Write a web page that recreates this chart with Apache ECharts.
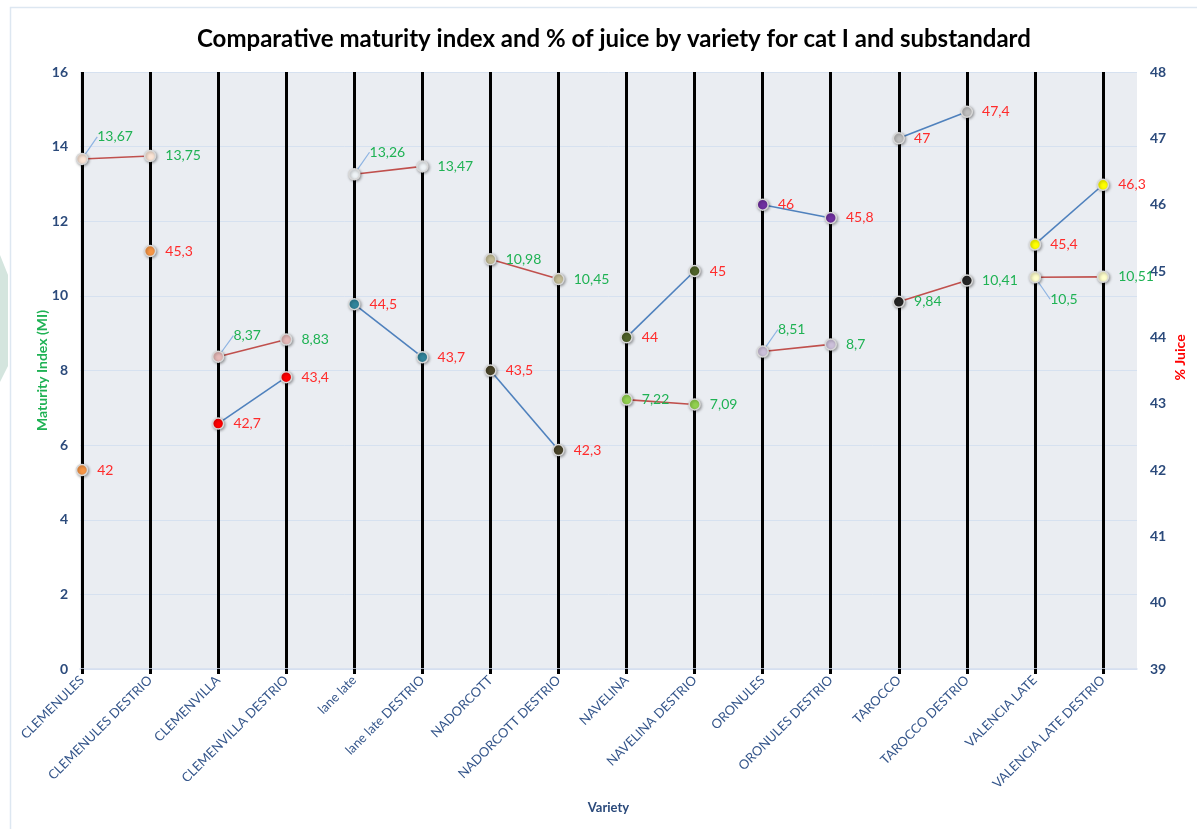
<!DOCTYPE html>
<html>
<head>
<meta charset="utf-8">
<script src="https://cdn.jsdelivr.net/npm/echarts@6/dist/echarts.min.js"></script>
<style>
html, body { margin: 0; padding: 0; background: #fff; }
#chart { width: 1197px; height: 829px; }
</style>
</head>
<body>
<div id="chart"></div>
<script>
// categories on the x axis, two per variety (cat I, then DESTRIO)
var categories = ['CLEMENULES', 'CLEMENULES DESTRIO', 'CLEMENVILLA', 'CLEMENVILLA DESTRIO',
  'lane late', 'lane late DESTRIO', 'NADORCOTT', 'NADORCOTT DESTRIO',
  'NAVELINA', 'NAVELINA DESTRIO', 'ORONULES', 'ORONULES DESTRIO',
  'TAROCCO', 'TAROCCO DESTRIO', 'VALENCIA LATE', 'VALENCIA LATE DESTRIO'];

// maturity index (left axis)
var miValues = [13.67, 13.75, 8.37, 8.83, 13.26, 13.47, 10.98, 10.45,
  7.22, 7.09, 8.51, 8.7, 9.84, 10.41, 10.5, 10.51];

// % juice (right axis)
var juiceValues = [42, 45.3, 42.7, 43.4, 44.5, 43.7, 43.5, 42.3,
  44, 45, 46, 45.8, 47, 47.4, 45.4, 46.3];

// is the juice pair joined by a line
var juiceLinked = [false, true, true, true, true, true, true, true];

var miTicks = [0, 16, 2];
var juiceTicks = [39, 48, 1];

// point colours per variety
var miColors = ['#fbe5d6', '#e6b9b8', '#eef3f6', '#c4bd97', '#92d050', '#ccc0da', '#262626', '#ffffcc'];
var juiceColors = ['#f79646', '#ff0000', '#31849b', '#494429', '#4f6228', '#7030a0', '#bfbfbf', '#ffff00'];

// labels that Excel pushed away with a leader line (px up/down)
var miLabelShift = { 0: -22, 2: -21, 4: -22, 10: -22, 14: 22 };

var FONT = 'Lato';
var AXIS_BLUE = '#2b4a7b';

function fmt(v) { return String(v).replace('.', ','); }

var series = [];
for (var i = 0; i < 8; i++) {
  var a = 2 * i, b = 2 * i + 1;
  series.push({
    name: 'MI ' + i,
    type: 'line',
    xAxisIndex: 1, yAxisIndex: 2,
    data: [a, b].map(function (k) {
      var item = { value: [categories[k], miValues[k]] };
      if (miLabelShift[k] !== undefined) item.labelLine = { show: true };
      return item;
    }),
    symbol: 'circle', symbolSize: 11,
    lineStyle: { color: '#c0504d', width: 1.6 },
    itemStyle: { color: miColors[i], borderColor: '#d8d8d8', borderWidth: 1.5,
      shadowBlur: 3, shadowOffsetX: 1, shadowOffsetY: 1, shadowColor: 'rgba(0,0,0,0.35)' },
    label: { show: true, position: 'right', distance: 9, color: '#1fb254', fontSize: 14, fontFamily: FONT,
      formatter: function (p) { return fmt(p.value[1]); } },
    labelLine: { lineStyle: { color: '#8db3e2', width: 1.2 } },
    labelLayout: (function (base) {
      return function (p) {
        var k = base + p.dataIndex;
        if (miLabelShift[k] === undefined) return {};
        return { dy: miLabelShift[k] };
      };
    })(a),
    emphasis: { disabled: true },
    z: 3
  });
  series.push({
    name: 'Juice ' + i,
    type: 'line',
    xAxisIndex: 1, yAxisIndex: 3,
    data: [[categories[a], juiceValues[a]], [categories[b], juiceValues[b]]],
    symbol: 'circle', symbolSize: 11,
    lineStyle: { color: '#4f81bd', width: 1.6, opacity: juiceLinked[i] ? 1 : 0 },
    itemStyle: { color: juiceColors[i], borderColor: '#d8d8d8', borderWidth: 1.5,
      shadowBlur: 3, shadowOffsetX: 1, shadowOffsetY: 1, shadowColor: 'rgba(0,0,0,0.35)' },
    label: { show: true, position: 'right', distance: 9, color: '#ff2b2b', fontSize: 14, fontFamily: FONT,
      formatter: function (p) { return fmt(p.value[1]); } },
    emphasis: { disabled: true },
    z: 3
  });
}

var chart = echarts.init(document.getElementById('chart'));
chart.setOption({
  animation: false,
  backgroundColor: '#fff',
  title: {
    text: 'Comparative maturity index and % of juice by variety for cat I and substandard',
    left: 192, top: 22,
    textStyle: { fontFamily: FONT, fontSize: 24, fontWeight: 'bold', color: '#000' }
  },
  // slide frame + decoration on the left edge
  graphic: [
    { type: 'rect', left: 8, top: 5, shape: { width: 1300, height: 900 }, silent: true, z: -10,
      style: { fill: 'none', stroke: '#dde7f1', lineWidth: 1.5 } },
    { type: 'polygon', silent: true, z: -10,
      shape: { points: [[0, 255], [8, 275], [8, 366], [0, 382]] },
      style: { fill: '#d4e5de' } }
  ],
  grid: [
    { left: 80, right: 60, top: 72, bottom: 160, show: true, backgroundColor: '#eaedf2', borderWidth: 0 },
    { left: 82, right: 94, top: 72, bottom: 160 }
  ],
  xAxis: [
    { gridIndex: 0, type: 'value', min: 0, max: 1,
      axisLine: { show: true, lineStyle: { color: '#d5def0', width: 1.5 } },
      axisTick: { show: false }, axisLabel: { show: false }, splitLine: { show: false },
      name: 'Variety', nameLocation: 'middle', nameGap: 132, nameMoveOverlap: false,
      nameTextStyle: { fontFamily: FONT, fontSize: 13, fontWeight: 'bold', color: AXIS_BLUE } },
    { gridIndex: 1, type: 'category', data: categories, boundaryGap: false,
      axisLine: { show: false },
      axisTick: { show: true, length: 5, lineStyle: { color: '#000', width: 3 } },
      splitLine: { show: true, lineStyle: { color: '#000', width: 3 } },
      axisLabel: { rotate: 45, interval: 0, margin: 9, color: '#35568b', fontSize: 13, fontFamily: FONT } }
  ],
  yAxis: [
    { gridIndex: 0, type: 'value', position: 'left', min: miTicks[0], max: miTicks[1], interval: miTicks[2],
      axisLine: { show: false }, axisTick: { show: false },
      axisLabel: { margin: 12, color: AXIS_BLUE, fontWeight: 'bold', fontSize: 14, fontFamily: FONT },
      splitLine: { show: true, lineStyle: { color: '#d6e1f0', width: 1 } },
      name: 'Maturity Index (MI)', nameLocation: 'middle', nameGap: 31, nameMoveOverlap: false,
      nameTextStyle: { fontFamily: FONT, fontSize: 14, fontWeight: 'bold', color: '#1fb254' } },
    { gridIndex: 0, type: 'value', position: 'right', min: juiceTicks[0], max: juiceTicks[1], interval: juiceTicks[2],
      axisLine: { show: false }, axisTick: { show: false },
      axisLabel: { margin: 13, color: AXIS_BLUE, fontWeight: 'bold', fontSize: 14, fontFamily: FONT },
      splitLine: { show: false },
      name: '% Juice', nameLocation: 'middle', nameGap: 36, nameMoveOverlap: false,
      nameTextStyle: { fontFamily: FONT, fontSize: 14, fontWeight: 'bold', color: '#ff0000', padding: [0, 0, 0, 26] } },
    { gridIndex: 1, type: 'value', min: miTicks[0], max: miTicks[1], show: false },
    { gridIndex: 1, type: 'value', min: juiceTicks[0], max: juiceTicks[1], show: false }
  ],
  series: series
});
</script>
</body>
</html>
